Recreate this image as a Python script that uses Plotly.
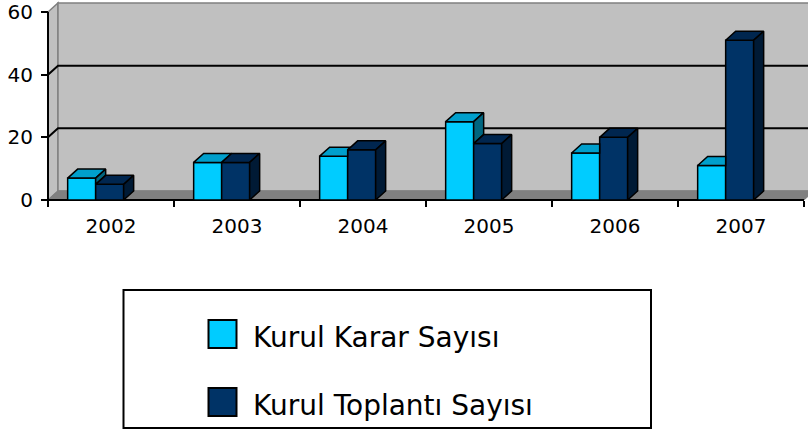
import plotly.graph_objects as go

# ---------------- data ----------------
years = ["2002", "2003", "2004", "2005", "2006", "2007"]
karar = [7, 12, 14, 25, 15, 11]          # Kurul Karar Sayısı
toplanti = [5, 12, 16, 18, 20, 51]       # Kurul Toplantı Sayısı
series_names = ["Kurul Karar Sayısı", "Kurul Toplantı Sayısı"]
y_ticks = [0, 20, 40, 60]

# ---------------- styles ----------------
W, H = 808, 431
ML, MR, MT, MB = 40, 0, 0, 227
PW, PH = W - ML - MR, H - MT - MB
KX = 126.0          # px per category
KY = 188.0 / 60     # px per unit
DX = 10.0 / KX      # depth offset (x, data units)
DY = 9.0 / KY       # depth offset (y, data units)
BAR_W = 28.0 / KX
OFFS = [-0.344, -0.344 + BAR_W]

front_cols = ["#00CCFF", "#003366"]
top_cols = ["#009FCC", "#00264F"]
side_cols = ["#006680", "#001A35"]
FONT = "DejaVu Sans"

n = len(years)
idx = list(range(n))
x_lo = -0.5 - (48 - ML) / KX
x_hi = x_lo + PW / KX
y_lo = -(PH - 200) / KY
y_hi = y_lo + PH / KY
ymax = y_ticks[-1]


def px_x(p):
    return (p - ML) / PW


def px_y(p):
    return (MT + PH - p) / PH


fig = go.Figure()

# front faces as bars
for s, vals in enumerate([karar, toplanti]):
    fig.add_trace(go.Bar(
        x=idx, y=vals, width=BAR_W, offset=OFFS[s],
        marker=dict(color=front_cols[s], line=dict(color="black", width=1.5)),
        name=series_names[s], showlegend=False, hoverinfo="skip"))

# 3D faces (tops, sides), light series clipped by the neighbour bar
def poly_trace(xs, ys, col):
    return go.Scatter(x=xs, y=ys, mode="lines", fill="toself", fillcolor=col,
                      line=dict(color="black", width=1.5), showlegend=False,
                      hoverinfo="skip")

lt_x, lt_y, ls_x, ls_y = [], [], [], []
dt_x, dt_y, ds_x, ds_y = [], [], [], []
for i in idx:
    vL, vD = karar[i], toplanti[i]
    x0 = i + OFFS[0]
    x1 = x0 + BAR_W
    c = min(max(vD, vL), vL + DY)
    t = (vL + DY - c) * DX / DY
    lt_x += [x0, x1, x1, x1 + t, x0 + DX, x0, None]
    lt_y += [vL, vL, c, vL + DY, vL + DY, vL, None]
    if vD < vL:
        ls_x += [x1, x1 + DX, x1 + DX, x1, x1, None]
        ls_y += [vD, vD + DY, vL + DY, vL, vD, None]
    d0 = i + OFFS[1]
    d1 = d0 + BAR_W
    dt_x += [d0, d1, d1 + DX, d0 + DX, d0, None]
    dt_y += [vD, vD, vD + DY, vD + DY, vD, None]
    ds_x += [d1, d1 + DX, d1 + DX, d1, d1, None]
    ds_y += [0, DY, vD + DY, vD, 0, None]

fig.add_trace(poly_trace(lt_x, lt_y, top_cols[0]))
if ls_x:
    fig.add_trace(poly_trace(ls_x, ls_y, side_cols[0]))
fig.add_trace(poly_trace(dt_x, dt_y, top_cols[1]))
fig.add_trace(poly_trace(ds_x, ds_y, side_cols[1]))

# walls, floor, gridlines
xa, xb = -0.5, n - 0.5
shapes = [
    dict(type="path", xref="x", yref="y", layer="below",
         path=f"M {xa},0 L {xa+DX},{DY} L {xa+DX},{ymax+DY} L {xa},{ymax} Z",
         fillcolor="#C0C0C0", line=dict(color="#808080", width=1.5)),
    dict(type="rect", xref="x", yref="y", layer="below",
         x0=xa + DX, y0=DY, x1=xb + DX, y1=ymax + DY,
         fillcolor="#C0C0C0", line=dict(color="#808080", width=1.5)),
    dict(type="path", xref="x", yref="y", layer="below",
         path=f"M {xa},0 L {xb},0 L {xb+DX},{DY} L {xa+DX},{DY} Z",
         fillcolor="#808080", line=dict(color="#808080", width=1)),
]
for v in y_ticks[1:-1]:
    shapes.append(dict(type="path", xref="x", yref="y", layer="below",
                       path=f"M {xa},{v} L {xa+DX},{v+DY} L {xb+DX},{v+DY}",
                       line=dict(color="black", width=2)))
shapes.append(dict(type="line", xref="x", yref="y", layer="below",
                   x0=xa, y0=0, x1=xa, y1=ymax, line=dict(color="black", width=2)))
shapes.append(dict(type="line", xref="x", yref="y", layer="below",
                   x0=xa, y0=0, x1=xb, y1=0, line=dict(color="black", width=2)))

# manual legend
shapes.append(dict(type="rect", xref="paper", yref="paper",
                   x0=px_x(123.5), x1=px_x(651), y0=px_y(290), y1=px_y(428),
                   line=dict(color="black", width=2), fillcolor="white"))
annotations = []
leg_rows = [334, 402]
for s in range(2):
    cy = leg_rows[s]
    shapes.append(dict(type="rect", xref="paper", yref="paper",
                       x0=px_x(208.5), x1=px_x(236.5), y0=px_y(cy - 14), y1=px_y(cy + 14),
                       fillcolor=front_cols[s], line=dict(color="black", width=2)))
    annotations.append(dict(xref="paper", yref="paper", x=px_x(251), y=px_y(cy + 3),
                            xanchor="left", yanchor="middle", showarrow=False,
                            text=series_names[s],
                            font=dict(family=FONT, size=28, color="black")))

fig.update_layout(
    width=W, height=H, margin=dict(l=ML, r=MR, t=MT, b=MB, pad=0),
    paper_bgcolor="white", plot_bgcolor="white",
    barmode="overlay", showlegend=False, hovermode=False,
    shapes=shapes, annotations=annotations,
    font=dict(family=FONT, color="black"),
    xaxis=dict(range=[x_lo, x_hi], tickvals=idx, ticktext=years, ticks="",
               showgrid=False, zeroline=False, showline=False,
               anchor="free", position=(MT + PH - 200) / PH,
               tickfont=dict(family=FONT, size=20, color="black"),
               ticklabelstandoff=12,
               minor=dict(tickvals=[i - 0.5 for i in range(n + 1)], ticks="outside",
                          ticklen=6, tickwidth=2, tickcolor="black", showgrid=False)),
    yaxis=dict(range=[y_lo, y_hi], tickvals=y_ticks, ticks="outside", ticklen=7,
               tickwidth=2, tickcolor="black", showgrid=False, zeroline=False,
               showline=False, anchor="free", position=(48 - ML) / PW,
               tickfont=dict(family=FONT, size=20, color="black"),
               ticklabelstandoff=4),
)

fig.write_html("out.html", config={"displayModeBar": False, "staticPlot": True},
               post_script="document.body.style.margin='0';document.body.style.overflow='hidden';")
